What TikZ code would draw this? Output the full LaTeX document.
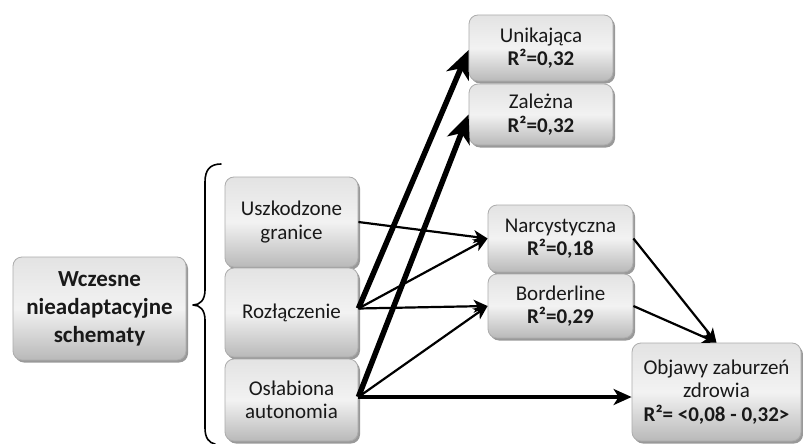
\documentclass[tikz,border=0pt]{standalone}
\usepackage{fontspec}
\setmainfont{Carlito}
\usetikzlibrary{arrows.meta,shadows}

\begin{document}
\begin{tikzpicture}[x=1pt,y=-1pt,
  box/.style={rectangle, rounded corners=9pt, draw=gray!65, line width=0.8pt,
    top color=gray!22, bottom color=gray!55, middle color=gray!10,
    align=center, inner sep=2pt, text=black!90,
    font=\fontsize{21}{23.5}\selectfont,
    drop shadow={shadow xshift=2pt, shadow yshift=-2.5pt, opacity=0.4, fill=black}},
  thinarrow/.style={line width=2.2pt, -{Stealth[length=14pt,width=13pt,inset=4pt]}},
  midarrow/.style={line width=3.4pt, -{Stealth[length=18pt,width=16pt,inset=5pt]}},
  heavyarrow/.style={line width=5.5pt, -{Stealth[length=28pt,width=24pt,inset=8pt]}},
  bracepath/.style={line width=1.6pt, line cap=round, line join=round}
]
\useasboundingbox[fill=white] (0,0) rectangle (803,444);

% schema domain
\node[box, minimum width=173pt, minimum height=103pt,
      font=\fontsize{23}{28}\selectfont\bfseries] (wns) at (99.5,308.5)
      {Wczesne\\nieadaptacyjne\\schematy};

% schema groups
\node[box, minimum width=133pt, minimum height=90pt] (usz) at (291.5,222) {Uszkodzone\\granice};
\node[box, minimum width=133pt, minimum height=89pt] (roz) at (291.5,312.5) {Rozłączenie};
\node[box, minimum width=133pt, minimum height=82pt] (osl) at (291.5,400) {Osłabiona\\autonomia};

% personality disorders
\node[box, minimum width=144pt, minimum height=66pt] (uni) at (541,48) {Unikająca\\\textbf{R²=0,32}};
\node[box, minimum width=144pt, minimum height=61pt] (zal) at (541,114.5) {Zależna\\\textbf{R²=0,32}};
\node[box, minimum width=145pt, minimum height=67pt] (nar) at (560.5,238.5) {Narcystyczna\\\textbf{R²=0,18}};
\node[box, minimum width=145pt, minimum height=64pt] (bor) at (560.5,306) {Borderline\\\textbf{R²=0,29}};

% health outcome
\node[box, minimum width=169pt, minimum height=98pt] (obj) at (716.5,392)
      {Objawy zaburzeń\\zdrowia\\\textbf{R²= <0,08 - 0,32>}};

% brace grouping the three schema groups
\draw[bracepath] (221,164) .. controls (210,164) and (205,170) .. (205,182)
  -- (205,290) .. controls (205,300) and (200,305) .. (193,305)
  .. controls (200,305) and (205,310) .. (205,320)
  -- (205,428) .. controls (205,438) and (209,443) .. (215,444);

% paths
\coordinate (rozout) at ([yshift=4pt]roz.east);
\coordinate (oslout) at ([yshift=3pt]osl.east);
\draw[heavyarrow] (rozout) -- ([yshift=-2pt]uni.west);
\draw[heavyarrow] (oslout) -- (zal.west);
\draw[thinarrow] (usz.east) -- (nar.west);
\draw[thinarrow] (rozout) -- (nar.west);
\draw[thinarrow] (rozout) -- (bor.west);
\draw[thinarrow] (oslout) -- (bor.west);
\draw[midarrow] (oslout) -- (obj.west |- oslout);
\draw[thinarrow] (nar.east) -- (obj.north);
\draw[thinarrow] (bor.east) -- (obj.north);
\end{tikzpicture}
\end{document}
